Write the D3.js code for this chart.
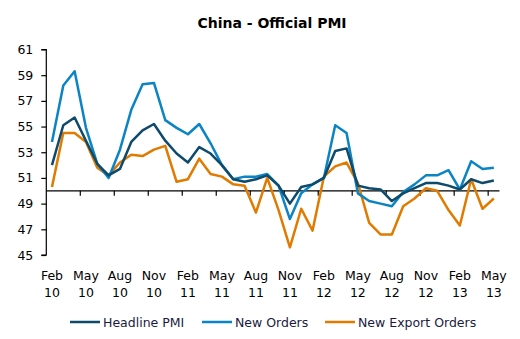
<!DOCTYPE html>
<html><head><meta charset="utf-8">
<script src="https://cdn.jsdelivr.net/npm/d3@7"></script>
<style>body{margin:0;background:#fff;} svg{display:block;font-family:Verdana,"DejaVu Sans",sans-serif;}</style>
</head><body>
<svg id="c" width="520" height="339"></svg>
<script>
const months = ["Feb 10","Mar 10","Apr 10","May 10","Jun 10","Jul 10","Aug 10","Sep 10","Oct 10","Nov 10","Dec 10","Jan 11",
"Feb 11","Mar 11","Apr 11","May 11","Jun 11","Jul 11","Aug 11","Sep 11","Oct 11","Nov 11","Dec 11","Jan 12",
"Feb 12","Mar 12","Apr 12","May 12","Jun 12","Jul 12","Aug 12","Sep 12","Oct 12","Nov 12","Dec 12","Jan 13",
"Feb 13","Mar 13","Apr 13","May 13"];
const headline = [52.0,55.1,55.7,53.9,52.1,51.2,51.7,53.8,54.7,55.2,53.9,52.9,
52.2,53.4,52.9,52.0,50.9,50.7,50.9,51.2,50.4,49.0,50.3,50.5,
51.0,53.1,53.3,50.4,50.2,50.1,49.2,49.8,50.2,50.6,50.6,50.4,
50.1,50.9,50.6,50.8];
const newOrders = [53.8,58.2,59.3,54.9,52.1,51.0,53.2,56.3,58.3,58.4,55.5,54.9,
54.4,55.2,53.7,52.0,50.9,51.1,51.1,51.3,50.4,47.8,49.8,50.5,
51.0,55.1,54.5,49.8,49.2,49.0,48.8,49.9,50.5,51.2,51.2,51.6,
50.1,52.3,51.7,51.8];
const exportOrders = [50.3,54.5,54.5,53.8,51.8,51.2,52.2,52.8,52.7,53.2,53.5,50.7,
50.9,52.5,51.3,51.1,50.5,50.4,48.3,51.0,48.5,45.6,48.6,46.9,
51.1,51.9,52.2,50.6,47.5,46.6,46.6,48.8,49.4,50.2,50.0,48.5,
47.3,50.9,48.6,49.4];
const yTicks = [45,47,49,51,53,55,57,59,61];
const xTickLabels = ["Feb 10","May 10","Aug 10","Nov 10","Feb 11","May 11","Aug 11","Nov 11","Feb 12","May 12","Aug 12","Nov 12","Feb 13","May 13"];
const seriesNames = ["Headline PMI","New Orders","New Export Orders"];
const colors = ["#0e4a6c","#0a84c3","#e07b00"];

const svg = d3.select("#c");
const x0 = 46.3, x1 = 499.5, yTop = 49.5, yBot = 255;
const x = d3.scaleBand().domain(months).range([x0, x1]).padding(0);
const y = d3.scaleLinear().domain([45,61]).range([yBot, yTop]);
const cx = m => x(m) + x.bandwidth()/2;
const FS = 12.5;

svg.append("text").attr("x",272).attr("y",28).attr("text-anchor","middle")
  .attr("font-size",14).attr("font-weight","bold").attr("fill","#000").text("China - Official PMI");

// y axis
const ya = svg.append("g").attr("transform",`translate(${x0},0)`)
  .call(d3.axisLeft(y).tickValues(yTicks).tickSize(5).tickPadding(8).tickFormat(d3.format("d")));
ya.selectAll("path,line").attr("stroke","#000").attr("stroke-width",1.2);
ya.select(".domain").attr("d",`M-5,${yBot}H0V${yTop}H-5`);
ya.selectAll("text").attr("font-size",FS).attr("fill","#000").attr("font-family","Verdana, DejaVu Sans, sans-serif");

// x axis line at 50
const yb = y(50);
svg.append("line").attr("x1",x0).attr("x2",x1).attr("y1",yb).attr("y2",yb).attr("stroke","#000").attr("stroke-width",1.2);
months.forEach((m,i)=>{ if(i%3===0 && i>0){ svg.append("line").attr("x1",x(m)).attr("x2",x(m)).attr("y1",yb).attr("y2",yb+5).attr("stroke","#000").attr("stroke-width",1.2);} });
xTickLabels.forEach(lbl=>{
  const [a,b] = lbl.split(" ");
  const t = svg.append("text").attr("x",cx(lbl)).attr("text-anchor","middle").attr("font-size",FS).attr("fill","#000");
  t.append("tspan").attr("x",cx(lbl)).attr("y",280).text(a);
  t.append("tspan").attr("x",cx(lbl)).attr("y",297).text(b);
});

const line = d3.line().x((d,i)=>cx(months[i])).y(d=>y(d));
[exportOrders, newOrders, headline].forEach((s,k)=>{
  const idx = 2-k;
  svg.append("path").datum(s).attr("d",line).attr("fill","none").attr("stroke",colors[idx]).attr("stroke-width",2.5).attr("stroke-linejoin","round");
});

// legend
const legX = [70,202,325];
seriesNames.forEach((n,i)=>{
  svg.append("line").attr("x1",legX[i]).attr("x2",legX[i]+30).attr("y1",322).attr("y2",322).attr("stroke",colors[i]).attr("stroke-width",2.5);
  svg.append("text").attr("x",legX[i]+33).attr("y",326.5).attr("font-size",FS).attr("fill","#1a1a40").text(n);
});
</script>
</body></html>
